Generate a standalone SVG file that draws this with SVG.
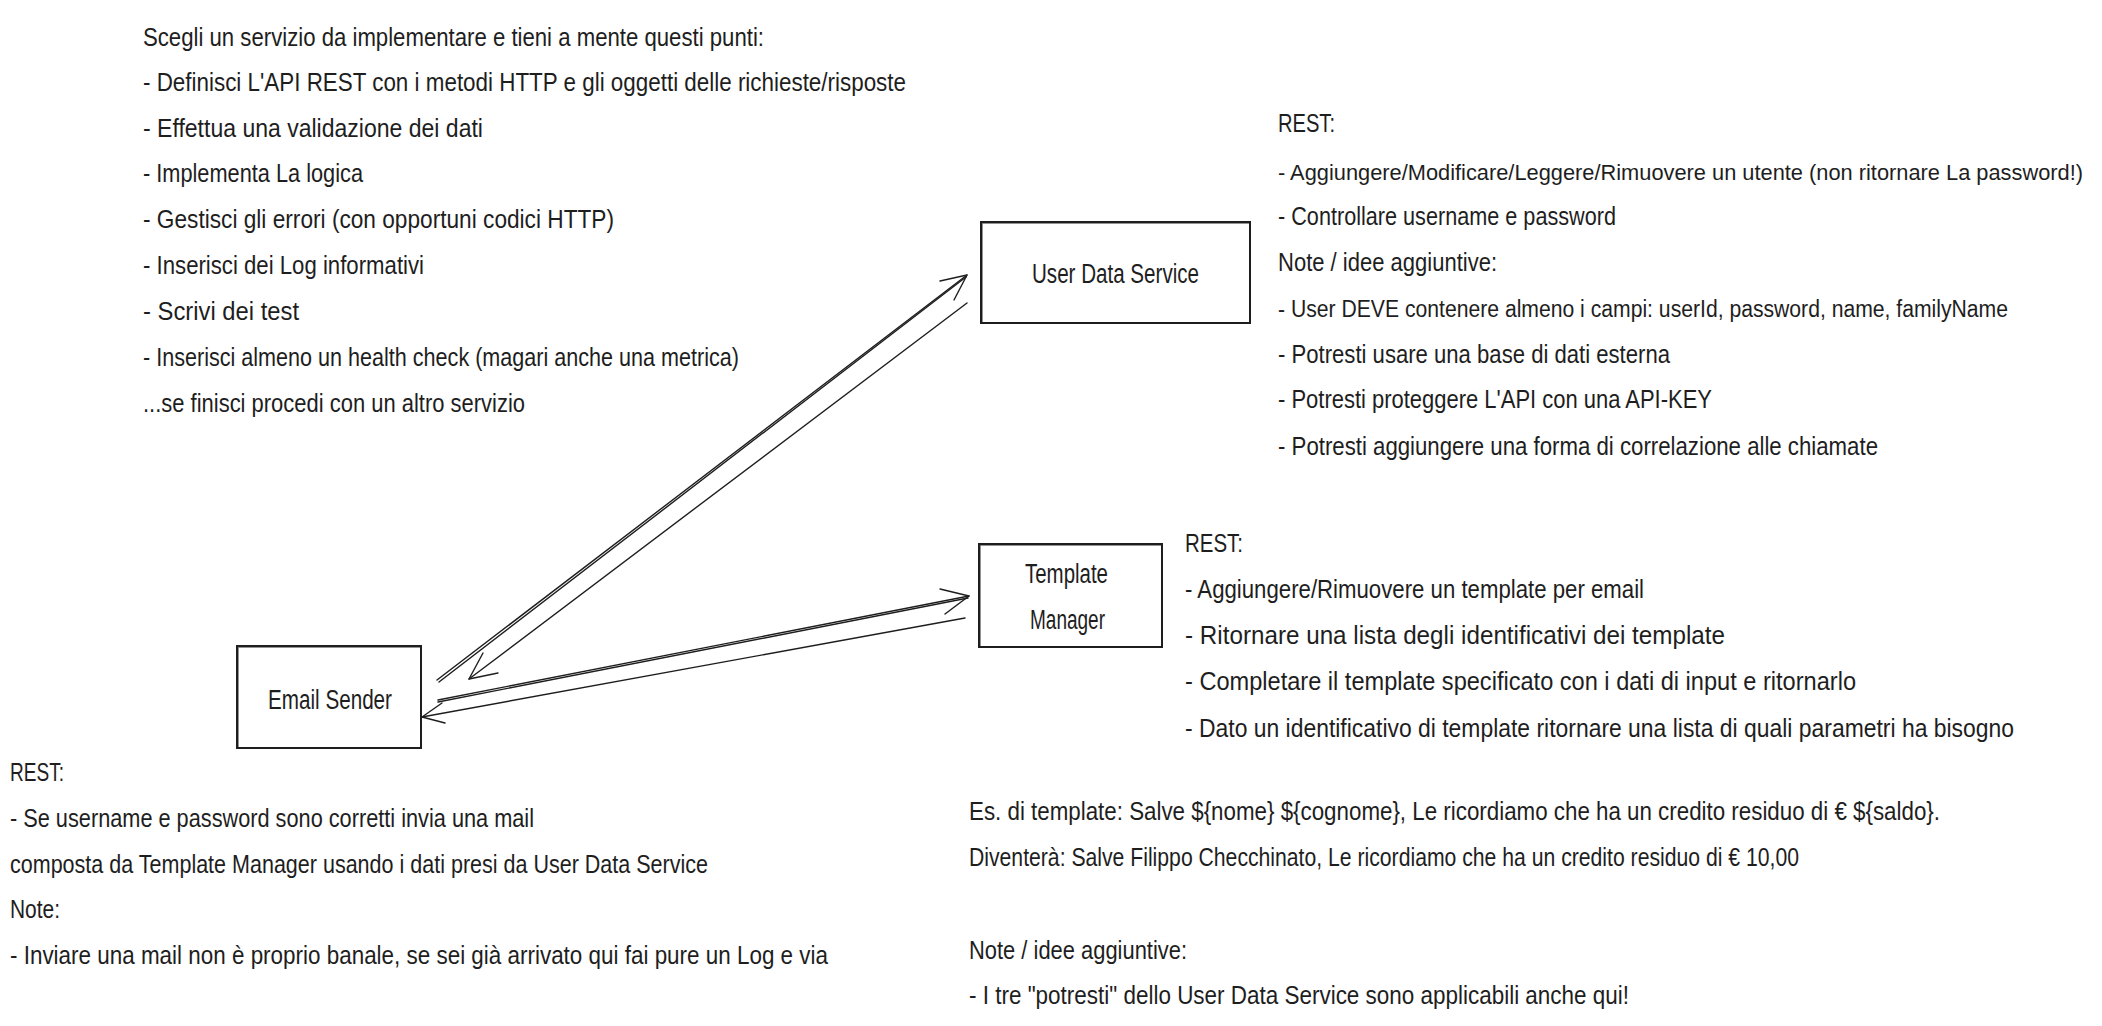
<svg xmlns="http://www.w3.org/2000/svg" width="2102" height="1026" viewBox="0 0 2102 1026">
<style>
text { font-family: "Liberation Sans", Arial, sans-serif; font-size: 25px; fill: #1e1e1e; }
.lbl { font-size: 27px; }
.box { fill: none; stroke: #1e1e1e; stroke-width: 2; }
.box2 { fill: none; stroke: #1e1e1e; stroke-width: 0.8; opacity: 0.6; }
.ln { fill: none; stroke: #1e1e1e; stroke-width: 1.4; stroke-linecap: round; stroke-linejoin: round; }
</style>
<rect width="2102" height="1026" fill="#ffffff"/>

<g id="instructions">
<text x="143" y="46" textLength="621" lengthAdjust="spacingAndGlyphs">Scegli un servizio da implementare e tieni a mente questi punti:</text>
<text x="143" y="91" textLength="763" lengthAdjust="spacingAndGlyphs">- Definisci L'API REST  con i metodi HTTP e gli oggetti delle richieste/risposte</text>
<text x="143" y="137" textLength="340" lengthAdjust="spacingAndGlyphs">- Effettua una validazione dei dati</text>
<text x="143" y="182" textLength="220" lengthAdjust="spacingAndGlyphs">- Implementa La logica</text>
<text x="143" y="228" textLength="471" lengthAdjust="spacingAndGlyphs">- Gestisci gli errori (con opportuni codici HTTP)</text>
<text x="143" y="274" textLength="281" lengthAdjust="spacingAndGlyphs">- Inserisci dei Log informativi</text>
<text x="143" y="320" textLength="156" lengthAdjust="spacingAndGlyphs">- Scrivi dei test</text>
<text x="143" y="366" textLength="596" lengthAdjust="spacingAndGlyphs">- Inserisci almeno un health check (magari anche una metrica)</text>
<text x="143" y="412" textLength="382" lengthAdjust="spacingAndGlyphs">...se finisci procedi con un altro servizio</text>
</g>

<g id="user-data-service">
<rect class="box" x="981" y="222" width="269" height="101"/>
<rect class="box2" x="982.5" y="223.5" width="267" height="99"/>
<text class="lbl" x="1032" y="283" textLength="167" lengthAdjust="spacingAndGlyphs">User Data Service</text>
</g>

<g id="user-data-service-notes">
<text x="1278" y="132" textLength="57" lengthAdjust="spacingAndGlyphs">REST:</text>
<text x="1278" y="180" style="font-size:22px" textLength="805" lengthAdjust="spacingAndGlyphs">- Aggiungere/Modificare/Leggere/Rimuovere un utente (non ritornare La password!)</text>
<text x="1278" y="225" textLength="338" lengthAdjust="spacingAndGlyphs">- Controllare username e password</text>
<text x="1278" y="271" textLength="219" lengthAdjust="spacingAndGlyphs">Note / idee aggiuntive:</text>
<text x="1278" y="317" style="font-size:23.5px" textLength="730" lengthAdjust="spacingAndGlyphs">- User DEVE  contenere almeno i campi: userId, password, name, familyName</text>
<text x="1278" y="363" textLength="392" lengthAdjust="spacingAndGlyphs">- Potresti usare una base di dati esterna</text>
<text x="1278" y="408" textLength="434" lengthAdjust="spacingAndGlyphs">- Potresti proteggere L'API con una API-KEY</text>
<text x="1278" y="455" textLength="600" lengthAdjust="spacingAndGlyphs">- Potresti aggiungere una forma di correlazione alle chiamate</text>
</g>

<g id="template-manager">
<rect class="box" x="979" y="544" width="183" height="103"/>
<rect class="box2" x="980.5" y="545.5" width="181" height="101"/>
<text class="lbl" x="1025" y="583" textLength="83" lengthAdjust="spacingAndGlyphs">Template</text>
<text class="lbl" x="1030" y="629" textLength="75" lengthAdjust="spacingAndGlyphs">Manager</text>
</g>

<g id="template-manager-notes">
<text x="1185" y="552" textLength="58" lengthAdjust="spacingAndGlyphs">REST:</text>
<text x="1185" y="598" textLength="459" lengthAdjust="spacingAndGlyphs">- Aggiungere/Rimuovere un template per email</text>
<text x="1185" y="644" textLength="540" lengthAdjust="spacingAndGlyphs">- Ritornare una lista degli identificativi dei template</text>
<text x="1185" y="690" textLength="671" lengthAdjust="spacingAndGlyphs">- Completare il template specificato con i dati di input e ritornarlo</text>
<text x="1185" y="737" textLength="829" lengthAdjust="spacingAndGlyphs">- Dato un identificativo di template ritornare una lista di quali parametri ha bisogno</text>
</g>

<g id="template-example">
<text x="969" y="820" textLength="971" lengthAdjust="spacingAndGlyphs">Es. di template: Salve ${nome} ${cognome}, Le ricordiamo che ha un credito residuo di € ${saldo}.</text>
<text x="969" y="866" textLength="830" lengthAdjust="spacingAndGlyphs">Diventerà: Salve Filippo Checchinato, Le ricordiamo che ha un credito residuo di € 10,00</text>
<text x="969" y="959" textLength="218" lengthAdjust="spacingAndGlyphs">Note / idee aggiuntive:</text>
<text x="969" y="1004" textLength="660" lengthAdjust="spacingAndGlyphs">- I tre "potresti" dello User Data Service sono applicabili anche qui!</text>
</g>

<g id="email-sender">
<rect class="box" x="237" y="646" width="184" height="102"/>
<rect class="box2" x="238.5" y="647.5" width="182" height="100"/>
<text class="lbl" x="268" y="709" textLength="124" lengthAdjust="spacingAndGlyphs">Email Sender</text>
</g>

<g id="email-sender-notes">
<text x="10" y="781" textLength="54" lengthAdjust="spacingAndGlyphs">REST:</text>
<text x="10" y="827" textLength="524" lengthAdjust="spacingAndGlyphs">- Se username e password sono corretti invia una mail</text>
<text x="10" y="873" textLength="698" lengthAdjust="spacingAndGlyphs">composta da Template Manager usando i dati presi da User Data Service</text>
<text x="10" y="918" textLength="50" lengthAdjust="spacingAndGlyphs">Note:</text>
<text x="10" y="964" textLength="818" lengthAdjust="spacingAndGlyphs">- Inviare una mail non è proprio banale, se sei già arrivato qui fai pure un Log e via</text>
</g>

<g id="connectors">
<path class="ln" d="M437 680 L967 275"/>
<path class="ln" d="M439 682 L966 277"/>
<path class="ln" d="M940 281 L967 275 L954 300"/>
<path class="ln" d="M967 303 L469 679"/>
<path class="ln" d="M483 653 L469 679 L498 673"/>
<path class="ln" d="M438 700 L969 596"/>
<path class="ln" d="M438 702 L968 598"/>
<path class="ln" d="M940 589 L969 596 L945 614"/>
<path class="ln" d="M965 618 L422 717"/>
<path class="ln" d="M442 703 L422 717 L445 723"/>
</g>
</svg>
